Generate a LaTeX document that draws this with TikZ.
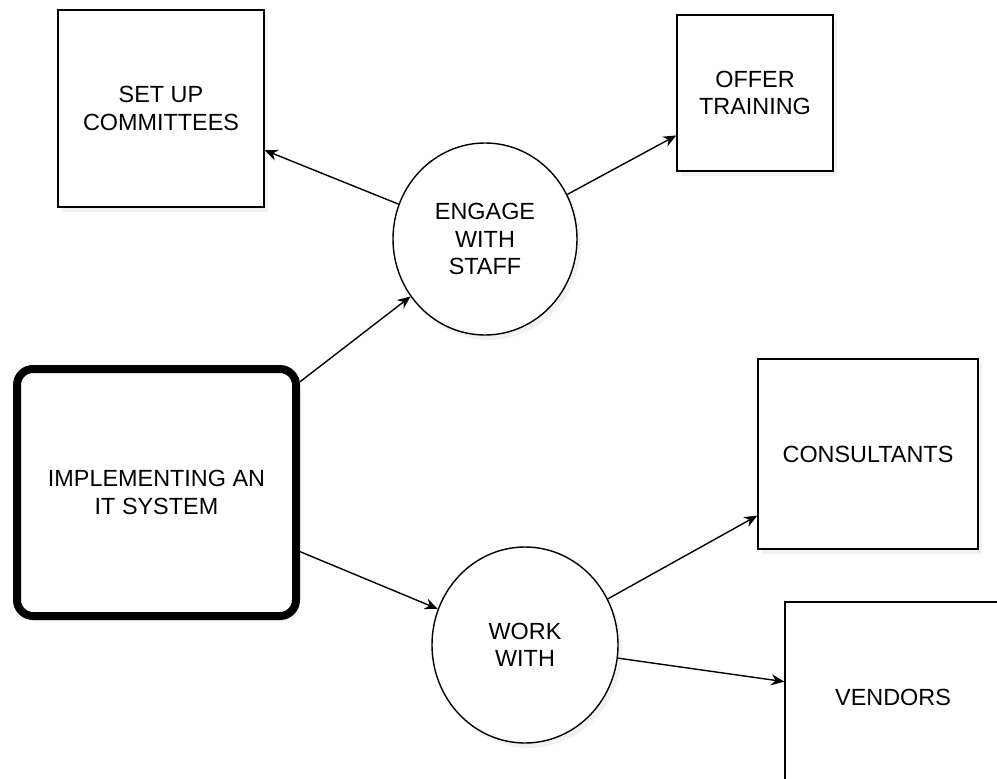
\documentclass[tikz,border=0pt]{standalone}
\usepackage{fontspec}
\setmainfont{Liberation Sans}
\usetikzlibrary{arrows.meta, shapes.geometric, shadows}

\begin{document}
\begin{tikzpicture}[
            x = 1pt, y = -1pt, % one unit per pixel, y going down
            > = {Stealth[length=13pt, width=11pt]}, % arrow head style
            line width = 1.4pt, % line style
            font = \fontsize{23.4}{27.5}\selectfont
        ]
        \tikzstyle{every node}=[
            draw = black,
            fill = white,
            align = center,
            inner sep = 0pt,
            drop shadow = {opacity = 0.1, shadow xshift = 4pt, shadow yshift = -5pt}
        ]
        \tikzstyle{task}=[rectangle]
        \tikzstyle{main}=[rectangle, line width = 8pt, rounded corners = 16pt]
        \tikzstyle{action}=[ellipse]

        \clip (0,0) rectangle (997,779);

        \node[main, minimum width = 279pt, minimum height = 247pt] (system) at (156.5,492.5) {IMPLEMENTING AN\\IT SYSTEM};
        \node[action, minimum width = 184pt, minimum height = 192pt] (engage) at (485,239) {ENGAGE\\WITH\\STAFF};
        \node[action, minimum width = 186pt, minimum height = 196pt] (work) at (525,645) {WORK\\WITH};
        \node[task, minimum width = 206pt, minimum height = 197pt] (committees) at (161,108.5) {SET UP\\COMMITTEES};
        \node[task, minimum width = 156pt, minimum height = 156pt] (training) at (755,93) {OFFER\\TRAINING};
        \node[task, minimum width = 220pt, minimum height = 190pt] (consultants) at (868,454) {CONSULTANTS};
        \node[task, minimum width = 216pt, minimum height = 190pt] (vendors) at (893,697) {VENDORS};

        \draw[->] (system) -- (engage);
        \draw[->] (system) -- (work);
        \draw[->] (engage) -- (committees);
        \draw[->] (engage) -- (training);
        \draw[->] (work) -- (consultants);
        \draw[->] (work) -- (vendors);
    \end{tikzpicture}
\end{document}
